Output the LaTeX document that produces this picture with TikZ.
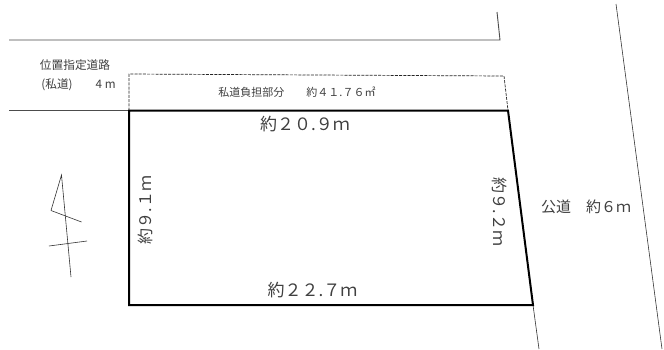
\documentclass[tikz,border=0pt]{standalone}
\usepackage{fontspec}
\setmainfont{Noto Sans CJK JP}[Scale=1]
\begin{document}
\begin{tikzpicture}[x=1pt,y=-1pt,
  thinline/.style={draw=black!70,line width=0.9pt},
  hair/.style={draw=black!80,line width=0.6pt},
  plot/.style={draw=black,line width=2pt,line join=miter},
  dashline/.style={draw=black!85,line width=0.7pt,dash pattern=on 3pt off 1.2pt},
  lab/.style={inner sep=0pt,text=black!75,anchor=center},
  big/.style={lab,font=\fontsize{17}{17}\selectfont},
  vert/.style={lab,font=\fontsize{16}{16}\selectfont},
  mid/.style={lab,font=\fontsize{15}{15}\selectfont},
  small/.style={lab,font=\fontsize{11}{11}\selectfont},
  note/.style={lab,font=\fontsize{11.7}{11.7}\selectfont}]
\useasboundingbox (0,0) rectangle (664,349);
\fill[white] (0,0) rectangle (664,349);
\coordinate (tl) at (9,40);
\coordinate (tr) at (500,40);
\coordinate (tt) at (497,12);
\coordinate (ml) at (9,110.5);
\coordinate (a) at (129,110.5);
\coordinate (b) at (508,110.5);
\coordinate (c) at (533,305);
\coordinate (d) at (129,305);
\coordinate (e) at (129,74);
\coordinate (f) at (504,76);
\coordinate (g) at (539,349);
\coordinate (r1) at (616,4);
\coordinate (r2) at (662,349);
\coordinate (n1) at (61.5,175);
\coordinate (n2) at (51,210.5);
\coordinate (n3) at (81.5,222);
\coordinate (n4) at (71,277);
\coordinate (n5) at (49,246);
\coordinate (n6) at (87,241);
\draw[thinline] (tl) -- (tr) -- (tt);
\draw[thinline] (ml) -- (a);
\draw[dashline] (a) -- (e) -- (f) -- (b);
\draw[hair] (c) -- (g);
\draw[hair] (r1) -- (r2);
\draw[hair] (n2) -- (n1) -- (n4);
\draw[hair] (n2) -- (n3);
\draw[hair] (n5) -- (n6);
\draw[plot] (a) -- (b) -- (c) -- (d) -- cycle;
\node[note] (t1) at (75,65.5) {位置指定道路};
\node[note] (t2) at (78.5,85) {(私道)\hspace{23pt}4 m};
\node[small] (t3) at (297,92) {私道負担部分\hspace{22pt}約４１.７６㎡};
\node[big] (t4) at (305,124) {約２０.９ｍ};
\node[big] (t5) at (312.5,290) {約２２.７ｍ};
\node[vert,rotate=90] (t6) at (145,210) {約９.１ｍ};
\node[vert,rotate=-90] (t7) at (500,212) {約９.２ｍ};
\node[mid] (t8) at (586,207) {公道　約６ｍ};
\end{tikzpicture}
\end{document}
